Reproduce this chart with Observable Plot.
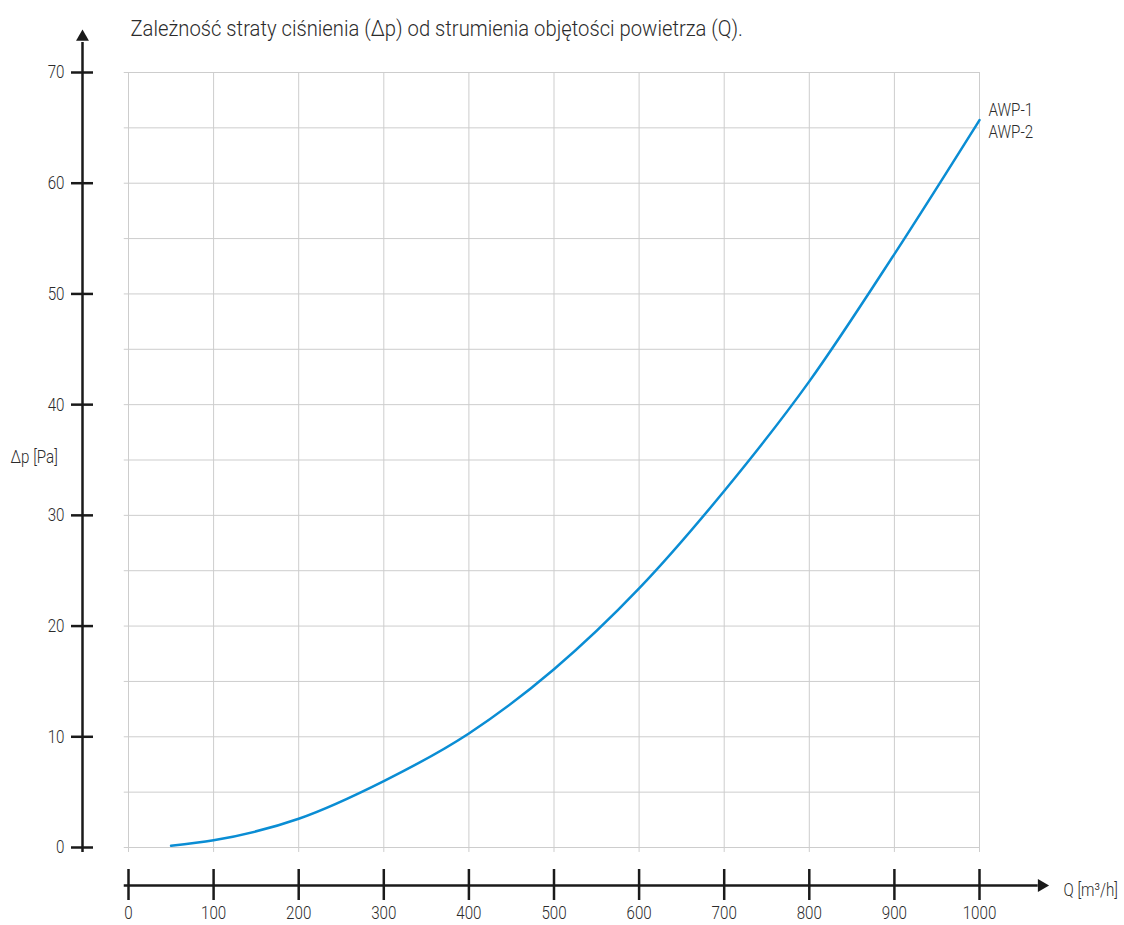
<!DOCTYPE html>
<html>
<head>
<meta charset="utf-8">
<script src="https://cdn.jsdelivr.net/npm/d3@7"></script>
<script src="https://cdn.jsdelivr.net/npm/@observablehq/plot@0.6"></script>
<style>
  body { margin: 0; background: #fff; }
</style>
</head>
<body>
<div id="chart"></div>
<script>
// Pressure loss of the AWP-1 / AWP-2 units versus air volume flow
const flow = [50, 100, 200, 300, 400, 500, 600, 700, 800, 900, 1000];          // Q [m³/h]
const pressureLoss = [0.15, 0.65, 2.6, 6.0, 10.3, 16.1, 23.4, 32.2, 42.1, 53.6, 65.7]; // Δp [Pa]
const seriesNames = ["AWP-1", "AWP-2"];
const xTicks = [0, 100, 200, 300, 400, 500, 600, 700, 800, 900, 1000];
const yTicks = [0, 10, 20, 30, 40, 50, 60, 70];
const yGrid = [0, 5, 10, 15, 20, 25, 30, 35, 40, 45, 50, 55, 60, 65, 70];
const title = "Zależność straty ciśnienia (Δp) od strumienia objętości powietrza (Q).";
const xLabel = "Q [m³/h]";
const yLabel = "Δp [Pa]";

// axis extents (data units) for the arrowed axes drawn outside the grid
const yAxisEnd = 72.7, yArrowAt = 73.2, axisStart = -0.45;
const xAxisEnd = 1069, xArrowAt = 1073, xAxisStart = -5;

const FONT = 'Roboto, "Noto Sans", sans-serif';
const axisColor = "#1a1a1a";
const gridColor = "#cdcdcd";
const textColor = "#2b2b2b";
const lineColor = "#0a8dd4";

const data = flow.map((q, i) => ({q, dp: pressureLoss[i]}));
const last = data[data.length - 1];

const chart = Plot.plot({
  width: 1124,
  height: 925,
  marginLeft: 128,
  marginRight: 145,
  marginTop: 72,
  marginBottom: 78,
  style: {fontFamily: FONT, fontSize: "18.5px", fontWeight: 300, color: textColor, background: "#fff", overflow: "visible"},
  x: {domain: [0, 1000], axis: null},
  y: {domain: [0, 70], axis: null},
  marks: [
    // grid
    Plot.ruleY(yGrid, {x1: xAxisStart, x2: 1000, stroke: gridColor, strokeWidth: 1}),
    Plot.ruleX(xTicks, {y1: axisStart, y2: 70, stroke: gridColor, strokeWidth: 1}),

    // vertical axis with arrow
    Plot.ruleX([0], {y1: axisStart, y2: yAxisEnd, dx: -46, stroke: axisColor, strokeWidth: 2.5}),
    Plot.dot([{x: 0, y: yArrowAt}], {x: "x", y: "y", dx: -46, symbol: "triangle", r: 4.8, fill: axisColor, stroke: null}),
    Plot.axisY(yTicks, {anchor: "left", tickSize: 22, tickPadding: 7, dx: -35, stroke: axisColor, strokeWidth: 2.5, fill: textColor, label: null, tickFormat: d => String(d)}),

    // horizontal axis with arrow
    Plot.ruleY([0], {x1: xAxisStart, x2: xAxisEnd, dy: 38, stroke: axisColor, strokeWidth: 2.5}),
    Plot.dot([{x: xArrowAt, y: 0}], {x: "x", y: "y", dy: 38, rotate: 90, symbol: "triangle", r: 4.8, fill: axisColor, stroke: null}),
    Plot.axisX(xTicks, {anchor: "bottom", tickSize: 31, tickPadding: 5, dy: 22, stroke: axisColor, strokeWidth: 2.5, fill: textColor, label: null, tickFormat: d => String(d)}),

    // curve
    Plot.line(data, {x: "q", y: "dp", stroke: lineColor, strokeWidth: 2.5, curve: "monotone-x"}),
    Plot.text([last], {x: "q", y: "dp", text: () => seriesNames.join("\n"), dx: 9, textAnchor: "start", lineAnchor: "middle", lineHeight: 1.15, fill: textColor}),

    // titles
    Plot.text([title], {frameAnchor: "top-left", dx: 2, dy: -44, textAnchor: "start", lineAnchor: "middle", fontSize: 22, fill: textColor}),
    Plot.text([yLabel], {frameAnchor: "left", dx: -118, dy: -3, textAnchor: "start", lineAnchor: "middle", fill: textColor}),
    Plot.text([xLabel], {frameAnchor: "bottom-right", dx: 84, dy: 43, textAnchor: "start", lineAnchor: "middle", fill: textColor})
  ]
});

// Narrow the labels horizontally around their anchor points (condensed look)
chart.querySelectorAll("text").forEach(t => {
  const k = t.textContent === title ? 0.92 : 0.82;
  let tr = t.getAttribute("transform") || "";
  const x = t.getAttribute("x");
  if (x !== null && /^-?[\d.]+$/.test(x)) {
    tr += ` translate(${x},0)`;
    t.setAttribute("x", 0);
  }
  t.setAttribute("transform", `${tr} scale(${k},1)`);
});

document.getElementById("chart").appendChild(chart);
</script>
</body>
</html>
